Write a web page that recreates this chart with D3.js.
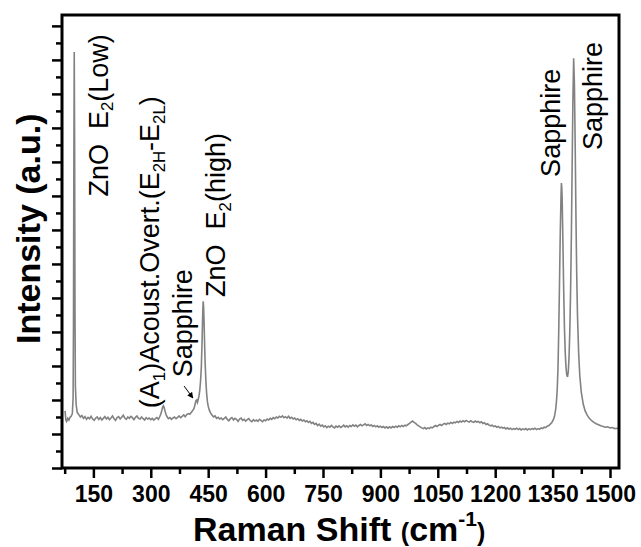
<!DOCTYPE html>
<html>
<head>
    <meta charset="utf-8">
    <script src="https://d3js.org/d3.v7.min.js"></script>
    <style>
        body { margin: 0; background: #fff; }
        text { font-family: "Liberation Sans", Arial, sans-serif; }
    </style>
</head>
<body>
<div id="my_chart"></div>
<script>
// Raman spectrum, [shift (cm-1), intensity (a.u.)]
var lowRegion = [[76,168],[78,142],[80,137],[83,146],[86,141],[89,149],[92,152],[95,160],[97,205],[98,420],[99,900],[100,1223],[101,950],[102,450],[103,240],[105,186],[108,163],[112,157],[116,150],[120,154],[124,146],[128,151],[132,143],[136,149],[140,145],[144,152],[148,144],[152,140],[156,147],[160,150],[164,143],[168,148],[172,141],[176,146],[180,151],[184,144],[188,149],[192,142],[196,147],[200,153],[204,145],[208,140],[212,148],[216,151],[220,144],[224,149],[228,155],[232,147],[236,143],[240,150],[244,146],[248,152],[252,148],[256,142],[260,149],[264,153],[268,146],[272,144],[276,150],[280,145],[284,141],[288,148],[292,144],[296,147],[300,142],[304,146],[308,141],[312,145],[316,148],[320,143],[323,150],[326,158],[329,170],[331,179],[333,183],[335,178],[337,168],[340,157],[343,150],[346,145]];

var zincRegion = [[350,148],[354,143],[358,147],[362,150],[366,145],[370,149],[374,153],[378,148],[382,152],[386,156],[390,151],[394,157],[398,160],[402,158],[406,164],[410,170],[413,175],[416,188],[418,198],[420,200],[422,193],[424,202],[426,212],[428,228],[430,255],[432,295],[434,370],[435,420],[436,465],[437,490],[438,475],[439,440],[440,395],[441,350],[442,310],[444,255],[446,218],[448,195],[450,182],[453,170],[456,162],[460,156],[464,150],[468,153],[472,146]];

var flatRegion = [[476,149],[480,144],[484,147],[488,142],[492,146],[496,150],[500,143],[504,139],[508,145],[512,148],[516,141],[520,146],[524,143],[528,137],[532,144],[536,147],[540,140],[544,143],[548,138],[552,142],[556,145],[560,139],[564,136],[568,142],[572,138],[576,141],[580,137],[584,143],[588,140],[592,136],[596,141],[600,139],[604,144],[608,141],[612,146],[616,143],[620,148],[624,145],[628,150],[632,147],[636,152],[640,149],[644,153],[648,148],[652,151],[656,147],[660,152],[664,146],[668,149],[672,144],[676,147],[680,142],[684,145],[688,140],[692,143],[696,138],[700,141],[704,136],[708,139],[712,134],[716,137],[720,131],[724,134],[728,128],[732,131],[736,125],[740,129],[744,123],[748,126],[752,121],[756,124],[760,119],[764,123],[768,120],[772,125],[776,121],[780,118],[784,123],[788,120],[792,124],[796,119],[800,122],[804,126],[808,121],[812,124],[816,120],[820,125],[824,122],[828,127],[832,123],[836,126],[840,121],[844,125],[848,128],[852,124],[856,127],[860,130],[864,125],[868,128],[872,124],[876,127],[880,122],[884,125],[888,121],[892,124],[896,120],[900,123],[904,119],[908,122],[912,118],[916,121],[920,117],[924,121],[928,118],[932,122],[936,119],[940,123],[944,120],[948,124],[952,121],[956,125],[960,122],[964,126],[968,124],[972,128],[976,131],[980,135],[984,138],[988,134],[992,131],[996,127],[1000,124],[1004,121],[1008,118],[1012,116],[1016,119],[1020,115],[1024,118],[1028,116],[1032,120],[1036,118],[1040,122],[1044,125],[1048,122],[1052,126],[1056,128],[1060,125],[1064,129],[1068,131],[1072,128],[1076,132],[1080,130],[1084,134],[1088,131],[1092,135],[1096,133],[1100,137],[1104,134],[1108,138],[1112,135],[1116,139],[1120,136],[1124,140],[1128,137],[1132,135],[1136,139],[1140,136],[1144,134],[1148,138],[1152,135],[1156,137],[1160,133],[1164,136],[1168,131],[1172,133],[1176,128],[1180,130],[1184,126],[1188,124],[1192,126],[1196,122],[1200,124],[1204,120],[1208,122],[1212,118],[1216,120],[1220,117],[1224,119],[1228,115],[1232,118],[1236,114],[1240,117],[1244,113],[1248,116],[1252,114],[1256,117],[1260,113],[1264,116],[1268,112],[1272,115],[1276,113],[1280,116],[1284,112],[1288,115],[1292,113],[1296,116],[1300,114],[1304,117],[1308,113],[1312,116],[1316,114],[1320,118],[1324,116],[1328,120],[1332,119],[1336,123],[1340,125]];

var sapphireRegion = [[1344,129],[1348,134],[1352,142],[1355,152],[1358,172],[1360,195],[1362,230],[1364,290],[1366,400],[1368,540],[1370,690],[1372,800],[1373,838],[1374,825],[1375,790],[1377,660],[1379,520],[1381,410],[1383,340],[1385,296],[1387,274],[1389,268],[1391,284],[1393,328],[1395,405],[1397,520],[1399,680],[1401,880],[1403,1080],[1405,1205],[1407,1130],[1409,950],[1411,740],[1413,570],[1415,450],[1418,340],[1421,272],[1425,222],[1430,188],[1435,168],[1440,156],[1446,146],[1452,139],[1458,134],[1464,130],[1470,127],[1476,124],[1482,122],[1488,120],[1494,121],[1500,118],[1506,119],[1512,116],[1518,117],[1521,115]];

var xTicks = [150, 300, 450, 600, 750, 900, 1050, 1200, 1350, 1500];
var xMinorTicks = [75, 225, 375, 525, 675, 825, 975, 1125, 1275, 1425];
var yTicks = [0, 100, 200, 300, 400, 500, 600, 700, 800, 900, 1000, 1100, 1200, 1300];
var yMinorTicks = [50, 150, 250, 350, 450, 550, 650, 750, 850, 950, 1050, 1150, 1250];

// peak labels: anchor in data units (shift, intensity) where the rotated text starts
var peakLabels = [
    { shift: 187, level: 798, parts: [["ZnO  E"], ["2", "sub"], ["(Low)"]] },
    { shift: 322, level: 176, parts: [["(A"], ["1", "sub"], [")Acoust.Overt.(E"], ["2H", "sub"], ["-E"], ["2L", "sub"], [")"]] },
    { shift: 409, level: 267, parts: [["Sapphire"]] },
    { shift: 494, level: 503, parts: [["ZnO  E"], ["2", "sub"], ["(high)"]] },
    { shift: 1369, level: 856, parts: [["Sapphire"]] },
    { shift: 1478, level: 935, parts: [["Sapphire"]] }
];

var width = 641;
var height = 547;

var svg = d3.select("#my_chart")
    .append("svg")
    .attr("width", width)
    .attr("height", height);

var x = d3.scaleLinear().domain([68, 1523.5]).range([62, 619]);
var y = d3.scaleLinear().domain([0, 1332]).range([468, 15]);

// spectrum line
var spectrum = lowRegion.concat(zincRegion, flatRegion, sapphireRegion);
var line = d3.line()
    .x(function (d) { return x(d[0]); })
    .y(function (d) { return y(d[1]); });

svg.append("path")
    .datum(spectrum)
    .attr("d", line)
    .attr("fill", "none")
    .attr("stroke", "#828282")
    .attr("stroke-width", 1.6);

// axes
var xMinor = svg.append("g")
    .attr("transform", "translate(0,468)")
    .call(d3.axisBottom(x).tickValues(xMinorTicks).tickSize(6).tickFormat(""));
var xMajor = svg.append("g")
    .attr("transform", "translate(0,468)")
    .call(d3.axisBottom(x).tickValues(xTicks).tickSize(10).tickFormat(d3.format("d")));
var yMinor = svg.append("g")
    .attr("transform", "translate(62,0)")
    .call(d3.axisLeft(y).tickValues(yMinorTicks).tickSize(6).tickFormat(""));
var yMajor = svg.append("g")
    .attr("transform", "translate(62,0)")
    .call(d3.axisLeft(y).tickValues(yTicks).tickSize(10).tickFormat(""));

svg.selectAll(".domain").remove();
svg.selectAll(".tick line")
    .attr("stroke", "#000")
    .attr("stroke-width", 2.5);

xMajor.selectAll("text")
    .attr("fill", "#000")
    .attr("font-family", "'Liberation Sans', Arial, sans-serif")
    .attr("font-size", "23px")
    .attr("font-weight", "bold")
    .attr("dy", null)
    .attr("y", 34);

// frame
svg.append("rect")
    .attr("x", 62)
    .attr("y", 15)
    .attr("width", 557)
    .attr("height", 453)
    .attr("fill", "none")
    .attr("stroke", "#000")
    .attr("stroke-width", 3);

// axis titles
var xTitle = svg.append("text")
    .attr("x", 193)
    .attr("y", 541)
    .attr("font-size", "34px")
    .attr("font-weight", "bold")
    .attr("fill", "#000");
xTitle.append("tspan").text("Raman Shift ");
xTitle.append("tspan").attr("font-size", "25px").text("(");
xTitle.append("tspan").text("cm");
xTitle.append("tspan").attr("font-size", "21px").attr("dy", -15).text("-1");
xTitle.append("tspan").attr("font-size", "25px").attr("dy", 15).text(")");

svg.append("text")
    .attr("transform", "translate(40,344) rotate(-90)")
    .attr("font-size", "34px")
    .attr("font-weight", "bold")
    .attr("fill", "#000")
    .text("Intensity (a.u.)");

// peak annotations, rotated
var fs = 27;
peakLabels.forEach(function (lab) {
    var t = svg.append("text")
        .attr("transform", "translate(" + x(lab.shift) + "," + y(lab.level) + ") rotate(-90)")
        .attr("font-size", fs + "px")
        .attr("fill", "#000")
        .style("white-space", "pre");
    var shifted = false;
    lab.parts.forEach(function (p) {
        var sp = t.append("tspan").text(p[0]);
        if (p[1] === "sub") {
            sp.attr("font-size", (fs * 0.62) + "px").attr("dy", fs * 0.22);
            shifted = true;
        } else if (shifted) {
            sp.attr("dy", -fs * 0.22);
            shifted = false;
        }
    });
});

// little arrow to the sapphire shoulder
svg.append("defs").append("marker")
    .attr("id", "head")
    .attr("viewBox", "0 0 10 10")
    .attr("refX", 9)
    .attr("refY", 5)
    .attr("markerWidth", 6)
    .attr("markerHeight", 6)
    .attr("orient", "auto")
    .append("path")
    .attr("d", "M0,0L10,5L0,10z")
    .attr("fill", "#000");

svg.append("line")
    .attr("x1", x(387)).attr("y1", y(241))
    .attr("x2", x(410)).attr("y2", y(206))
    .attr("stroke", "#000")
    .attr("stroke-width", 1)
    .attr("marker-end", "url(#head)");
</script>
</body>
</html>
